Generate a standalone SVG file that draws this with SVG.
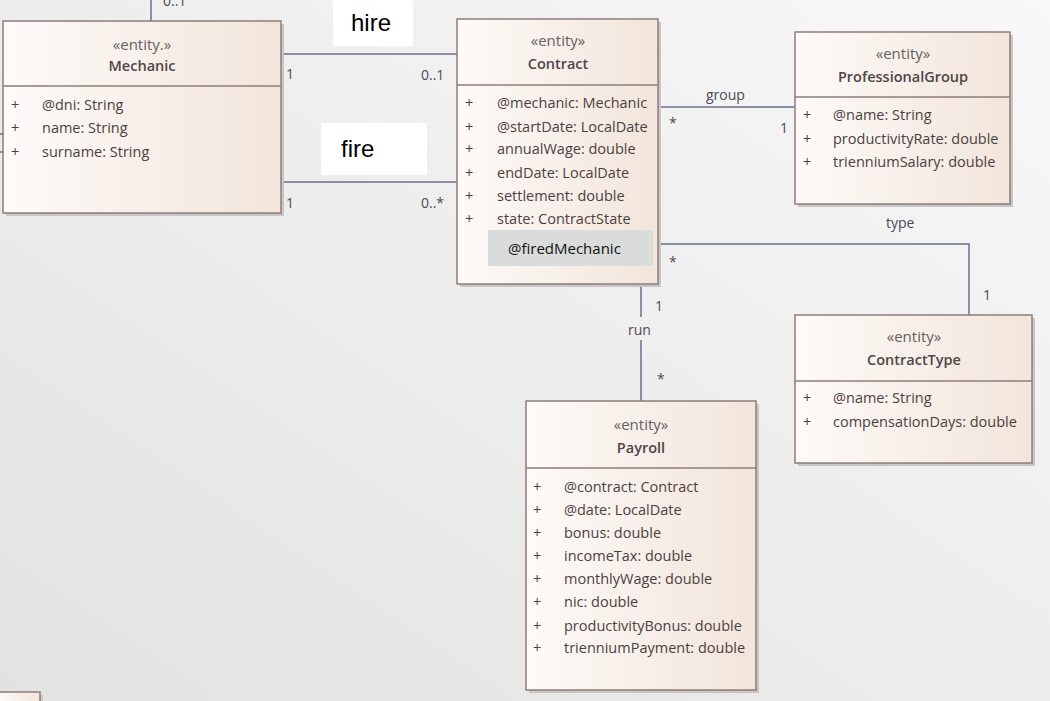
<svg xmlns="http://www.w3.org/2000/svg" width="1050" height="701" viewBox="0 0 1050 701">
<defs>
<linearGradient id="bg" x1="1" y1="0" x2="0" y2="1">
<stop offset="0" stop-color="#f8f8f8"/>
<stop offset="1" stop-color="#e3e2e1"/>
</linearGradient>
<linearGradient id="boxfill" x1="0" y1="0" x2="1" y2="0">
<stop offset="0" stop-color="#fdfaf8"/>
<stop offset="1" stop-color="#f2e5db"/>
</linearGradient>
<style>
.box{fill:url(#boxfill);stroke:#8f7c7a;stroke-width:1.5}
.shadow{fill:#c9c7c6}
.div{stroke:#8f7c7a;stroke-width:1.5}
.st{font-family:"Open Sans","Noto Sans",sans-serif;font-size:15px;fill:#666060;text-anchor:middle}
.nm{font-family:"Open Sans","Noto Sans",sans-serif;font-size:14.5px;font-weight:600;fill:#4f4646;text-anchor:middle}
.at{font-family:"Open Sans","Noto Sans",sans-serif;font-size:14.5px;fill:#4d3f3f}
.ln{fill:none;stroke:#67718d;stroke-width:1.5}
.lb{font-family:"Open Sans","Noto Sans",sans-serif;font-size:14px;fill:#4d4a55}
.big{font-family:"Liberation Sans",Arial,sans-serif;font-size:24px;fill:#000}
</style>
</defs>
<rect width="1050" height="701" fill="url(#bg)"/>

<g id="connectors">
<line class="ln" x1="151" y1="0" x2="151" y2="21"/>
<text class="lb" x="163" y="6">0..1</text>
<line class="ln" x1="0" y1="134" x2="3" y2="134"/>
<line class="ln" x1="0" y1="152" x2="3" y2="152"/>
<line class="ln" x1="281" y1="54" x2="457" y2="54"/>
<text class="lb" x="286" y="79">1</text>
<text class="lb" x="421" y="80">0..1</text>
<line class="ln" x1="281" y1="182" x2="457" y2="182"/>
<text class="lb" x="286" y="208">1</text>
<text class="lb" x="421" y="208">0..*</text>
<line class="ln" x1="658" y1="107" x2="795" y2="107"/>
<text class="lb" x="706" y="100">group</text>
<text class="lb" x="669" y="128">*</text>
<text class="lb" x="780" y="133">1</text>
<polyline class="ln" points="652,244 969,244 969,315"/>
<text class="lb" x="886" y="228">type</text>
<text class="lb" x="669" y="267">*</text>
<text class="lb" x="983" y="300">1</text>
<line class="ln" x1="641" y1="284" x2="641" y2="317"/>
<line class="ln" x1="641" y1="340" x2="641" y2="401"/>
<text class="lb" x="628" y="335">run</text>
<text class="lb" x="655" y="311">1</text>
<text class="lb" x="657" y="384">*</text>
<rect x="333" y="0" width="80" height="46" fill="#ffffff"/>
<text class="big" x="351" y="31">hire</text>
<rect x="321" y="123" width="106" height="52" fill="#ffffff"/>
<text class="big" x="341" y="157">fire</text>
</g>

<g id="Mechanic">
<rect class="shadow" x="6" y="24" width="278" height="192"/>
<rect class="box" x="3" y="21" width="278" height="192"/>
<line class="div" x1="3" y1="86" x2="281" y2="86"/>
<text class="st" x="142" y="50">«entity.»</text>
<text class="nm" x="142" y="71">Mechanic</text>
<text class="at" x="11" y="110">+</text><text class="at" x="42" y="110">@dni: String</text>
<text class="at" x="11" y="133">+</text><text class="at" x="42" y="133">name: String</text>
<text class="at" x="11" y="157">+</text><text class="at" x="42" y="157">surname: String</text>
</g>

<g id="Contract">
<rect class="shadow" x="460" y="22" width="201" height="265"/>
<rect class="box" x="457" y="19" width="201" height="265"/>
<line class="div" x1="457" y1="85" x2="658" y2="85"/>
<text class="st" x="558" y="46">«entity»</text>
<text class="nm" x="558" y="69">Contract</text>
<text class="at" x="465" y="108">+</text><text class="at" x="497" y="108">@mechanic: Mechanic</text>
<text class="at" x="465" y="132">+</text><text class="at" x="497" y="132">@startDate: LocalDate</text>
<text class="at" x="465" y="154">+</text><text class="at" x="497" y="154">annualWage: double</text>
<text class="at" x="465" y="178">+</text><text class="at" x="497" y="178">endDate: LocalDate</text>
<text class="at" x="465" y="201">+</text><text class="at" x="497" y="201">settlement: double</text>
<text class="at" x="465" y="224">+</text><text class="at" x="497" y="224">state: ContractState</text>
<rect x="488" y="230" width="165" height="36" fill="#d9dcdb"/>
<text x="508" y="254" font-family="'Open Sans','Noto Sans',sans-serif" font-size="15px" fill="#111">@firedMechanic</text>
</g>

<g id="ProfessionalGroup">
<rect class="shadow" x="798" y="35" width="215" height="172"/>
<rect class="box" x="795" y="32" width="215" height="172"/>
<line class="div" x1="795" y1="97" x2="1010" y2="97"/>
<text class="st" x="903" y="59">«entity»</text>
<text class="nm" x="903" y="82">ProfessionalGroup</text>
<text class="at" x="803" y="120">+</text><text class="at" x="833" y="120">@name: String</text>
<text class="at" x="803" y="144">+</text><text class="at" x="833" y="144">productivityRate: double</text>
<text class="at" x="803" y="167">+</text><text class="at" x="833" y="167">trienniumSalary: double</text>
</g>

<g id="ContractType">
<rect class="shadow" x="798" y="318" width="237" height="148"/>
<rect class="box" x="795" y="315" width="237" height="148"/>
<line class="div" x1="795" y1="381" x2="1032" y2="381"/>
<text class="st" x="914" y="342">«entity»</text>
<text class="nm" x="914" y="365">ContractType</text>
<text class="at" x="803" y="403">+</text><text class="at" x="833" y="403">@name: String</text>
<text class="at" x="803" y="427">+</text><text class="at" x="833" y="427">compensationDays: double</text>
</g>

<g id="Payroll">
<rect class="shadow" x="529" y="404" width="230" height="289"/>
<rect class="box" x="526" y="401" width="230" height="289"/>
<line class="div" x1="526" y1="468" x2="756" y2="468"/>
<text class="st" x="641" y="430">«entity»</text>
<text class="nm" x="641" y="453">Payroll</text>
<text class="at" x="533" y="492">+</text><text class="at" x="564" y="492">@contract: Contract</text>
<text class="at" x="533" y="515">+</text><text class="at" x="564" y="515">@date: LocalDate</text>
<text class="at" x="533" y="538">+</text><text class="at" x="564" y="538">bonus: double</text>
<text class="at" x="533" y="561">+</text><text class="at" x="564" y="561">incomeTax: double</text>
<text class="at" x="533" y="584">+</text><text class="at" x="564" y="584">monthlyWage: double</text>
<text class="at" x="533" y="607">+</text><text class="at" x="564" y="607">nic: double</text>
<text class="at" x="533" y="631">+</text><text class="at" x="564" y="631">productivityBonus: double</text>
<text class="at" x="533" y="653">+</text><text class="at" x="564" y="653">trienniumPayment: double</text>
</g>

<g id="PartialNode">
<rect class="shadow" x="3" y="695" width="40" height="10"/>
<rect class="box" x="-2" y="692" width="42" height="12"/>
</g>
</svg>
